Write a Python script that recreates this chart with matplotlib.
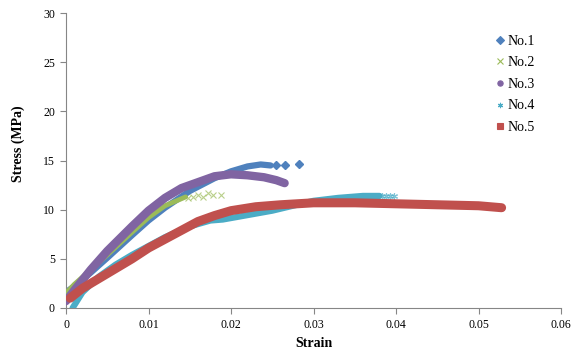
import matplotlib
matplotlib.use("Agg")
import matplotlib.pyplot as plt
from matplotlib.lines import Line2D

plt.rcParams['font.family'] = ['Liberation Serif', 'DejaVu Serif']

# ---- data (strain, stress in MPa) ----
strain1 = [0, 0.001, 0.003, 0.005, 0.008, 0.010, 0.012, 0.015, 0.018, 0.020, 0.022, 0.0236, 0.0248]
stress1 = [1.6, 2.2, 3.6, 5.1, 7.4, 8.9, 10.2, 11.9, 13.2, 13.9, 14.4, 14.6, 14.5]
tail_strain1 = [0.0255, 0.0265, 0.0283]
tail_stress1 = [14.5, 14.55, 14.6]

strain2 = [0, 0.001, 0.003, 0.005, 0.008, 0.010, 0.012, 0.0145]
stress2 = [1.5, 2.4, 3.9, 5.4, 7.7, 9.2, 10.4, 11.3]
tail_strain2 = [0.0148, 0.0154, 0.0160, 0.0166, 0.0172, 0.0178, 0.0188]
tail_stress2 = [11.2, 11.3, 11.5, 11.3, 11.7, 11.5, 11.5]

strain3 = [0, 0.001, 0.003, 0.005, 0.008, 0.010, 0.012, 0.014, 0.016, 0.018, 0.020, 0.022, 0.024, 0.0255, 0.0265]
stress3 = [0.7, 1.8, 3.9, 5.8, 8.3, 9.9, 11.2, 12.2, 12.8, 13.4, 13.6, 13.5, 13.3, 13.0, 12.7]

strain4 = [0.0008, 0.002, 0.004, 0.006, 0.008, 0.010, 0.012, 0.015, 0.0175, 0.019, 0.021, 0.025, 0.030, 0.033, 0.036, 0.038]
stress4 = [0.0, 1.6, 3.2, 4.4, 5.4, 6.3, 7.2, 8.3, 8.9, 9.0, 9.3, 9.9, 10.9, 11.2, 11.4, 11.4]
tail_strain4 = [0.0383, 0.0388, 0.0393, 0.0397]
tail_stress4 = [11.4, 11.4, 11.4, 11.4]

strain5 = [0.0005, 0.002, 0.004, 0.006, 0.008, 0.010, 0.012, 0.014, 0.016, 0.018, 0.020, 0.023, 0.026,
           0.030, 0.035, 0.040, 0.045, 0.050, 0.0528]
stress5 = [1.0, 2.0, 3.0, 4.0, 5.0, 6.1, 7.0, 7.9, 8.8, 9.4, 9.9, 10.3, 10.5, 10.7, 10.7, 10.6, 10.5, 10.4, 10.2]

labels = ['No.1', 'No.2', 'No.3', 'No.4', 'No.5']
colors = ['#4F81BD', '#9BBB59', '#8064A2', '#4BACC6', '#C0504D']
markers = ['D', 'x', 'o', (6, 2, 0), 's']

xticks = [0, 0.01, 0.02, 0.03, 0.04, 0.05, 0.06]
xticklabels = ['0', '0.01', '0.02', '0.03', '0.04', '0.05', '0.06']
yticks = [0, 5, 10, 15, 20, 25, 30]

fig = plt.figure(figsize=(5.81, 3.54), dpi=100)
ax = fig.add_axes([0.1136, 0.130, 0.852, 0.833])

series = [(strain1, stress1, 4.5), (strain2, stress2, 3.5), (strain3, stress3, 6.0),
          (strain4, stress4, 4.5), (strain5, stress5, 6.5)]
for i, (xs, ys, lw) in enumerate(series):
    ax.plot(xs, ys, color=colors[i], lw=lw, solid_capstyle='round', solid_joinstyle='round',
            zorder=2 + i)

# sparse markers at the end of some curves
ax.plot(tail_strain1, tail_stress1, ls='none', marker='D', ms=4.5, color=colors[0], zorder=2)
ax.plot(tail_strain2, tail_stress2, ls='none', marker='x', ms=5, mew=0.8, color=colors[1], alpha=0.7, zorder=3)
ax.plot(tail_strain4, tail_stress4, ls='none', marker=(6, 2, 0), ms=5, mew=0.8, color=colors[3], alpha=0.7, zorder=5)

ax.set_xlim(0, 0.06)
ax.set_ylim(0, 30)
ax.set_xticks(xticks)
ax.set_xticklabels(xticklabels)
ax.set_yticks(yticks)

for s in ['top', 'right']:
    ax.spines[s].set_visible(False)
for s in ['left', 'bottom']:
    ax.spines[s].set_color('#868686')
    ax.spines[s].set_linewidth(0.8)
ax.tick_params(direction='out', length=4, width=0.8, color='#868686', labelsize=8.5, pad=4)

ax.set_xlabel('Strain', fontsize=10, fontweight='bold')
ax.set_ylabel('Stress (MPa)', fontsize=10, fontweight='bold')
ax.xaxis.set_label_coords(0.5, -0.098)
ax.yaxis.set_label_coords(-0.083, 0.556)

handles = []
for i in range(5):
    handles.append(Line2D([], [], ls='none', marker=markers[i], color=colors[i],
                          ms=3.8, mew=0.8))
ax.legend(handles, labels, loc='upper left', bbox_to_anchor=(0.858, 0.946), frameon=False,
          fontsize=10, handlelength=0.6, handletextpad=0.2, labelspacing=0.62, borderaxespad=0)

fig.savefig('out.png', dpi=100)
